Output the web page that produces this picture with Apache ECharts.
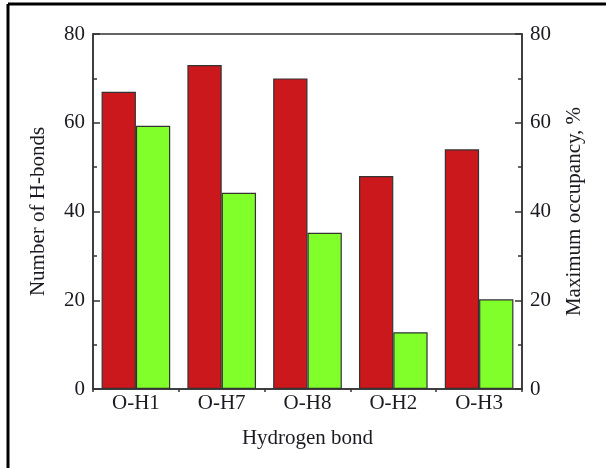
<!DOCTYPE html>
<html>
<head>
<meta charset="utf-8">
<script src="https://cdn.jsdelivr.net/npm/echarts@6/dist/echarts.min.js"></script>
<style>
html, body { margin: 0; padding: 0; background: #fff; }
#chart { width: 606px; height: 468px; }
</style>
</head>
<body>
<div id="chart"></div>
<script>
// hydrogen bonds and their counts / occupancy
var bond_names = ["O-H1", "O-H7", "O-H8", "O-H2", "O-H3"];
var hbond_counts = [67, 73, 70, 48, 54];
var max_occupancy = [59.3, 44.2, 35.2, 12.8, 20.2];
var y_ticks = [0, 20, 40, 60, 80];

var font_family = "'Liberation Serif', 'DejaVu Serif', serif";
var axis_color = "#333";
var text_color = "#1a1a22";

function y_axis(pos, title, gap)
{
    return {
        type: "value",
        position: pos,
        min: y_ticks[0],
        max: y_ticks[y_ticks.length - 1],
        interval: y_ticks[1] - y_ticks[0],
        name: title,
        nameLocation: "middle",
        nameGap: gap,
        nameRotate: 90,
        nameTextStyle: { fontFamily: font_family, fontSize: 21, color: text_color },
        axisLine: { show: true, lineStyle: { color: axis_color, width: 1.5 } },
        axisTick: { show: true, inside: true, length: 7, lineStyle: { color: axis_color, width: 1.5 } },
        minorTick: { show: true, splitNumber: 2, length: 4, lineStyle: { color: axis_color, width: 1.5 } },
        axisLabel: { fontFamily: font_family, fontSize: 21, color: text_color, margin: 8 },
        splitLine: { show: false }
    };
}

var chart = echarts.init(document.getElementById("chart"));
var option = {
    animation: false,
    backgroundColor: "#fff",
    grid: {
        left: 93, right: 84, top: 34, bottom: 79,
        show: true, borderColor: axis_color, borderWidth: 1.5
    },
    graphic: [
        { type: "line", shape: { x1: 8, y1: 4, x2: 606, y2: 4 }, style: { stroke: "#000", lineWidth: 3 } },
        { type: "line", shape: { x1: 8, y1: 4, x2: 8, y2: 468 }, style: { stroke: "#000", lineWidth: 3 } }
    ],
    xAxis: {
        type: "category",
        data: bond_names,
        name: "Hydrogen bond",
        nameLocation: "middle",
        nameGap: 39,
        nameTextStyle: { fontFamily: font_family, fontSize: 21, color: text_color },
        axisLine: { lineStyle: { color: axis_color, width: 1.5 } },
        axisTick: { show: true, length: 3, lineStyle: { color: axis_color, width: 1.5 } },
        axisLabel: { fontFamily: font_family, fontSize: 21, color: text_color, margin: 4 }
    },
    yAxis: [
        y_axis("left", "Number of H-bonds", 44),
        y_axis("right", "Maximum occupancy, %", 42)
    ],
    series: [
        {
            type: "bar",
            data: hbond_counts,
            yAxisIndex: 0,
            barGap: "0%",
            barCategoryGap: "20%",
            itemStyle: { color: "#CB181C", borderColor: "#333", borderWidth: 1.2 }
        },
        {
            type: "bar",
            data: max_occupancy,
            yAxisIndex: 1,
            itemStyle: { color: "#80FF2A", borderColor: "#333", borderWidth: 1.2 }
        }
    ]
};
chart.setOption(option);
</script>
</body>
</html>
